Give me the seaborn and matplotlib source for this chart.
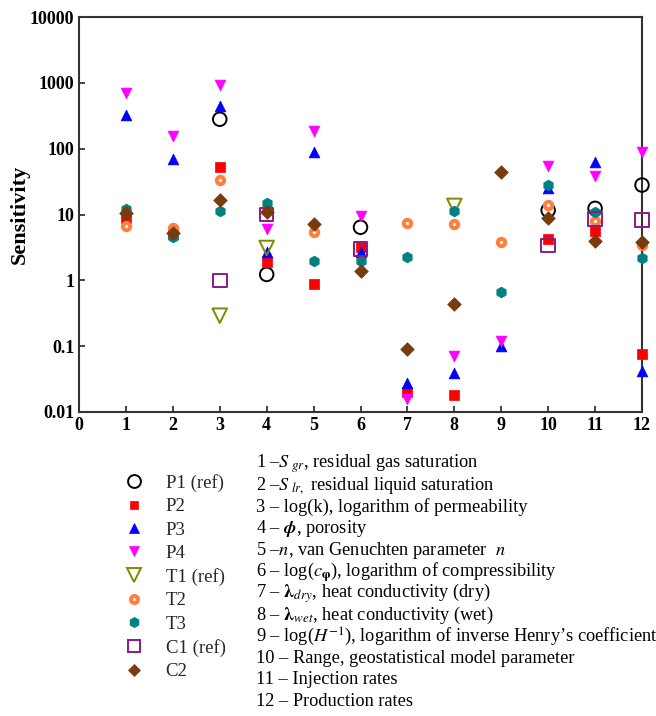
import numpy as np
import pandas as pd
import seaborn as sns
import matplotlib
matplotlib.use("Agg")
import matplotlib.pyplot as plt
from matplotlib.lines import Line2D
from matplotlib.ticker import FixedLocator, FixedFormatter

sns.set_theme(style="white")
plt.rcParams["font.family"] = ["Liberation Serif", "DejaVu Serif"]
plt.rcParams["mathtext.fontset"] = "stix"

nan = np.nan
params = list(range(1, 13))

# sensitivity of each observation to parameters 1..12
P1 = [nan, nan, 280, 1.23, nan, 6.4, nan, nan, nan, 11.6, 12.4, 28]
P2 = [9.0, 5.0, 52, 1.9, 0.87, 3.2, 0.020, 0.018, nan, 4.2, 5.7, 0.077]
P3 = [330, 70, 440, 2.7, 88, 2.65, 0.028, 0.039, 0.10, 25, 62, 0.042]
P4 = [700, 155, 920, 6.0, 183, 9.4, 0.016, 0.070, 0.118, 54, 38, 88]
T1 = [nan, nan, 0.29, 3.1, nan, nan, nan, 13.5, nan, nan, nan, nan]
T2 = [6.8, 6.3, 34, 12, 5.4, nan, 7.4, 7.1, 3.8, 13.8, 7.9, 3.5]
T3 = [12, 4.6, 11.3, 15, 1.95, 1.95, 2.3, 11.5, 0.66, 27.6, 11, 2.2]
C1 = [nan, nan, 1.0, 10, nan, 3.0, nan, nan, nan, 3.4, 8.5, 8.2]
C2 = [10.5, 5.2, 16.5, 10.9, 7.1, 1.37, 0.089, 0.43, 44, 9.0, 3.9, 3.8]

series_names = ["P1 (ref)", "P2", "P3", "P4", "T1 (ref)", "T2", "T3", "C1 (ref)", "C2"]
series_values = [P1, P2, P3, P4, T1, T2, T3, C1, C2]

y_ticks = [0.01, 0.1, 1, 10, 100, 1000, 10000]
y_tick_labels = ["0.01", "0.1", "1", "10", "100", "1000", "10000"]
x_ticks = list(range(0, 13))

param_labels = [
    r"1 –$S_{\ gr}$, residual gas saturation",
    r"2 –$S_{\ lr,}$ residual liquid saturation",
    r"3 – log(k), logarithm of permeability",
    r"4 – $\boldsymbol{\phi}$, porosity",
    r"5 –$n$, van Genuchten parameter  $n$",
    r"6 – log($c_{\boldsymbol{\varphi}}$), logarithm of compressibility",
    r"7 – $\boldsymbol{\lambda}_{dry}$, heat conductivity (dry)",
    r"8 – $\boldsymbol{\lambda}_{wet}$, heat conductivity (wet)",
    r"9 – log($H^{-1}$), logarithm of inverse Henry’s coefficient",
    "10 – Range, geostatistical model parameter",
    "11 – Injection rates",
    "12 – Production rates",
]

# marker style per series: marker, face, edge, size (pt^2), edge width
styles = {
    "P1 (ref)": dict(marker="o", fc="none", ec="black", s=95, lw=1.4),
    "P2": dict(marker="s", fc="#ff0000", ec="#ff0000", s=42, lw=0.5),
    "P3": dict(marker="^", fc="#0000ff", ec="#0000ff", s=60, lw=0.5),
    "P4": dict(marker="v", fc="#ff00ff", ec="#ff00ff", s=60, lw=0.5),
    "T1 (ref)": dict(marker="v", fc="none", ec="#7f8a00", s=110, lw=1.4),
    "T2": dict(marker="o", fc="white", ec="#ff7f3f", s=28, lw=2.9),
    "T3": dict(marker="h", fc="#008080", ec="#008080", s=60, lw=0.5),
    "C1 (ref)": dict(marker="s", fc="none", ec="#8b1a8b", s=95, lw=1.4),
    "C2": dict(marker="D", fc="#7a3a0c", ec="#7a3a0c", s=48, lw=0.5),
}

rows = []
for name, vals in zip(series_names, series_values):
    for p, v in zip(params, vals):
        rows.append({"parameter": p, "sensitivity": v, "series": name})
df = pd.DataFrame(rows).dropna()

fig = plt.figure(figsize=(6.56, 7.16), dpi=100)
ax = fig.add_axes([79 / 656, 1 - 412 / 716, 563 / 656, 395 / 716])

for name in series_names:
    st = styles[name]
    sub = df[df["series"] == name]
    sns.scatterplot(data=sub, x="parameter", y="sensitivity", ax=ax,
                    marker=st["marker"], s=st["s"], facecolor=st["fc"],
                    edgecolor=st["ec"], linewidth=st["lw"], clip_on=False,
                    zorder=3, legend=False)

ax.set_yscale("log")
ax.set_xlim(0, 12)
ax.set_ylim(0.01, 10000)
ax.yaxis.set_major_locator(FixedLocator(y_ticks))
ax.yaxis.set_major_formatter(FixedFormatter(y_tick_labels))
ax.yaxis.set_minor_locator(FixedLocator([]))
ax.set_xticks(x_ticks)
ax.set_xticklabels([str(t) for t in x_ticks])
ax.tick_params(axis="both", direction="in", length=4, width=1.2,
               labelsize=13, colors="#222222", bottom=True, left=True)
for lab in ax.get_xticklabels() + ax.get_yticklabels():
    lab.set_fontweight("bold")
    lab.set_color("black")
for sp in ax.spines.values():
    sp.set_linewidth(1.5)
    sp.set_color("#333333")
ax.set_xlabel("")
ax.set_ylabel("Sensitivity", fontsize=16, fontweight="bold", color="black")
ax.yaxis.set_label_coords(-0.088, 0.5)
ax.grid(False)

handles = []
for name in series_names:
    st = styles[name]
    handles.append(Line2D([], [], linestyle="none", marker=st["marker"],
                          markersize=np.sqrt(st["s"]) * 0.95,
                          markerfacecolor=st["fc"], markeredgecolor=st["ec"],
                          markeredgewidth=st["lw"]))
fig.legend(handles, series_names, loc="upper left",
           bbox_to_anchor=(115 / 656, 1 - 474 / 716), frameon=False,
           fontsize=13.5, labelspacing=0.33, handletextpad=0.7,
           borderaxespad=0, borderpad=0)

for i, txt in enumerate(param_labels):
    fig.text(256 / 656, 1 - (464 + 21.6 * i) / 716, txt, fontsize=13.2,
             va="center", ha="left", color="black")

fig.savefig("out.png", dpi=100, facecolor="white")
